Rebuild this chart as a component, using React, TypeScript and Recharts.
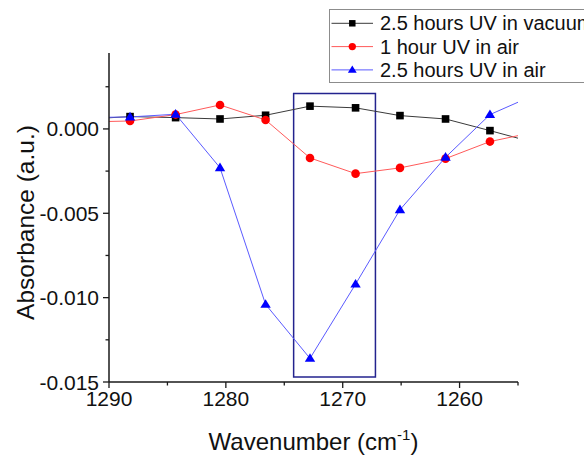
import React from 'react';
import { LineChart, Line, XAxis, YAxis, ReferenceArea, Legend } from 'recharts';

// ---- data ----
const wavenumbers = [1292.1, 1288.2, 1284.3, 1280.5, 1276.6, 1272.8, 1268.9, 1265.1, 1261.2, 1257.4, 1253.5];
const vacuum25h = [0.00058, 0.00073, 0.00067, 0.00059, 0.00081, 0.00135, 0.00125, 0.00079, 0.00059, -0.0001, -0.00083];
const air1h = [0.00041, 0.00047, 0.00085, 0.00142, 0.00053, -0.00172, -0.00265, -0.00231, -0.00176, -0.00075, -0.00018];
const air25h = [0.00067, 0.00071, 0.00087, -0.0023, -0.0104, -0.0136, -0.0092, -0.00479, -0.00168, 0.00085, 0.00204];

const seriesNames = ['2.5 hours UV in vacuum', '1 hour UV in air', '2.5 hours UV in air'];
const xTicks = [1290, 1285, 1280, 1275, 1270, 1265, 1260, 1255];
const yTicks = [-0.015, -0.0125, -0.01, -0.0075, -0.005, -0.0025, 0, 0.0025];
const xDomain = [1255, 1290];
const yDomain = [-0.015, 0.0045];
const highlightX = [1274.2, 1267.2];
const highlightY = [-0.0147, 0.0021];

const data = wavenumbers.map((w, i) => ({
  w,
  vac: vacuum25h[i],
  air1: air1h[i],
  air25: air25h[i],
}));

const FONT = '"Liberation Sans", Arial, sans-serif';
const AXIS = '#1a1a1a';

type Shape = 'square' | 'circle' | 'triangle';
const seriesStyle: { key: string; line: string; fill: string; shape: Shape }[] = [
  { key: 'vac', line: '#3a3a3a', fill: '#000000', shape: 'square' },
  { key: 'air1', line: '#ff5a5a', fill: '#ff0000', shape: 'circle' },
  { key: 'air25', line: '#5a5aff', fill: '#0000ff', shape: 'triangle' },
];

function Marker({ cx, cy, shape, fill, s = 1 }: { cx: number; cy: number; shape: Shape; fill: string; s?: number }) {
  if (cx == null || cy == null) return null;
  if (shape === 'square') {
    const h = 3.8 * s;
    return <rect x={cx - h} y={cy - h} width={2 * h} height={2 * h} fill={fill} />;
  }
  if (shape === 'circle') {
    return <circle cx={cx} cy={cy} r={4.3 * s} fill={fill} />;
  }
  const w = 5.2 * s;
  const h = 8.6 * s;
  return (
    <polygon
      points={`${cx},${cy - h * 0.6} ${cx - w},${cy + h * 0.4} ${cx + w},${cy + h * 0.4}`}
      fill={fill}
    />
  );
}

const makeDot = (shape: Shape, fill: string) => (props: any) => (
  <Marker key={`d-${props.index}`} cx={props.cx} cy={props.cy} shape={shape} fill={fill} />
);

const XTick = (props: any) => {
  const { x, y, payload } = props;
  const major = payload.value % 10 === 0;
  return (
    <g>
      <line x1={x} x2={x} y1={y} y2={y + (major ? 6 : 3.5)} stroke={AXIS} strokeWidth={1.3} />
      {major && (
        <text x={x} y={y + 9} dy="0.71em" textAnchor="middle" fontSize={21} fontFamily={FONT} fill="#111">
          {payload.value}
        </text>
      )}
    </g>
  );
};

const YTick = (props: any) => {
  const { x, y, payload } = props;
  const v = payload.value;
  const major = Math.abs(Math.round(v / 0.005) * 0.005 - v) < 1e-9;
  return (
    <g>
      <line x1={x} x2={x - (major ? 6 : 3.5)} y1={y} y2={y} stroke={AXIS} strokeWidth={1.3} />
      {major && (
        <text x={x - 10} y={y} dy="0.36em" textAnchor="end" fontSize={21} fontFamily={FONT} fill="#111">
          {v.toFixed(3)}
        </text>
      )}
    </g>
  );
};

const XLabel = (props: any) => {
  const vb = props.viewBox || {};
  const cx = vb.x + vb.width / 2;
  const y = vb.y + 68;
  return (
    <text x={cx} y={y} textAnchor="middle" fontSize={24} fontFamily={FONT} fill="#111">
      Wavenumber (cm
      <tspan dy={-10} fontSize={15}>-1</tspan>
      <tspan dy={10}>)</tspan>
    </text>
  );
};

const YLabel = (props: any) => {
  const vb = props.viewBox || {};
  const x = 34;
  const cy = vb.y + vb.height / 2 + 5;
  return (
    <text
      x={x}
      y={cy}
      transform={`rotate(-90, ${x}, ${cy})`}
      textAnchor="middle"
      fontSize={24.5}
      fontFamily={FONT}
      fill="#111"
    >
      Absorbance (a.u.)
    </text>
  );
};

const renderLegend = () => (
  <svg width={300} height={75} style={{ display: 'block' }}>
    <rect x={0.5} y={0.5} width={320} height={73} fill="#fff" stroke="#8c8c8c" strokeWidth={1} />
    {seriesStyle.map((s, i) => {
      const cy = 14.3 + i * 23.3;
      return (
        <g key={s.key}>
          <line x1={2.5} x2={44} y1={cy} y2={cy} stroke={s.line} strokeWidth={1} />
          <Marker cx={23.3} cy={cy} shape={s.shape} fill={s.fill} s={0.85} />
          <text x={51} y={cy + 7} fontSize={20} fontFamily={FONT} fill="#111">
            {seriesNames[i]}
          </text>
        </g>
      );
    })}
  </svg>
);

export default function App() {
  return (
    <div style={{ position: 'absolute', left: 0, top: 0, width: 584, height: 455, overflow: 'hidden', background: '#fff' }}>
      <LineChart width={584} height={455} data={data} margin={{ top: 53, right: 66, bottom: 0, left: 0 }}>
        <XAxis
          dataKey="w"
          type="number"
          domain={xDomain}
          reversed
          allowDataOverflow
          ticks={xTicks}
          interval={0}
          tickSize={0}
          tickMargin={0}
          tick={<XTick />}
          height={73}
          axisLine={{ stroke: AXIS, strokeWidth: 1.5 }}
          tickLine={false}
          label={<XLabel />}
        />
        <YAxis
          type="number"
          domain={yDomain}
          allowDataOverflow
          ticks={yTicks}
          interval={0}
          tickSize={0}
          tickMargin={0}
          tick={<YTick />}
          width={109}
          axisLine={{ stroke: AXIS, strokeWidth: 1.5 }}
          tickLine={false}
          label={<YLabel />}
        />
        <ReferenceArea
          x1={highlightX[0]}
          x2={highlightX[1]}
          y1={highlightY[0]}
          y2={highlightY[1]}
          fill="none"
          fillOpacity={0}
          stroke="#23238e"
          strokeWidth={1.5}
          ifOverflow="visible"
        />
        {seriesStyle.map((s, i) => (
          <Line
            key={s.key}
            dataKey={s.key}
            name={seriesNames[i]}
            type="linear"
            stroke={s.line}
            strokeWidth={1}
            dot={makeDot(s.shape, s.fill)}
            activeDot={false}
            isAnimationActive={false}
          />
        ))}
        <Legend
          layout="horizontal"
          verticalAlign="middle"
          align="center"
          content={renderLegend}
          wrapperStyle={{ position: 'absolute', left: 329, top: 9, width: 300, height: 75, margin: 0, padding: 0 }}
        />
      </LineChart>
    </div>
  );
}
